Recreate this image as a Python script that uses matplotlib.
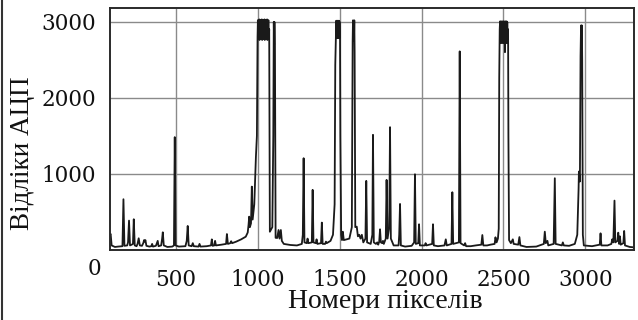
import matplotlib
matplotlib.use("Agg")
import matplotlib.pyplot as plt
from matplotlib.lines import Line2D

# (pixel number, ADC reading), region by region
trace_left = [
    (100, 200), (104, 210), (110, 60), (130, 40), (150, 45), (176, 50), (182, 667),
    (188, 55), (205, 60), (210, 100), (216, 386), (222, 60), (232, 70), (240, 80),
    (245, 404), (251, 60), (262, 50), (268, 80), (275, 154), (282, 60), (295, 55),
    (303, 90), (308, 130), (312, 110), (316, 130), (322, 55), (340, 45), (352, 50),
    (357, 80), (362, 45), (380, 55), (386, 90), (391, 120), (396, 50), (412, 60),
    (418, 150), (422, 233), (428, 60), (450, 40), (480, 45), (490, 60), (495, 1483),
    (500, 60), (520, 45), (560, 50), (568, 120), (574, 316), (580, 60), (598, 50),
    (605, 90), (611, 50), (640, 45), (646, 80), (652, 45), (690, 50), (716, 60),
    (721, 140), (726, 55), (736, 60), (741, 120), (746, 60), (780, 70), (808, 80),
    (813, 210), (819, 80), (834, 90), (839, 115), (845, 90), (870, 110), (900, 140),
    (928, 175), (940, 230), (945, 330), (949, 438), (953, 300), (960, 350), (965, 833),
    (970, 400), (980, 600), (990, 1228), (996, 1500),
]
trace_block1 = [
    (1000, 2800), (1002, 3020), (1004, 2770), (1006, 3000), (1008, 2790), (1010, 3030),
    (1012, 2760), (1014, 3010), (1016, 2780), (1018, 3025), (1020, 2770), (1022, 3000),
    (1024, 2790), (1026, 3030), (1028, 2760), (1030, 3015), (1032, 2780), (1034, 3020),
    (1036, 2770), (1038, 3000), (1040, 2800), (1042, 3030), (1044, 2760), (1046, 3010),
    (1048, 2780), (1050, 3025), (1052, 2770), (1054, 3000), (1056, 2790), (1058, 3030),
    (1060, 2760), (1062, 3015), (1064, 2780), (1066, 3020), (1068, 2770), (1071, 2900),
]
trace_mid1 = [
    (1075, 240), (1090, 300), (1096, 1500), (1099, 2996), (1101, 2700), (1103, 2996),
    (1106, 2700), (1110, 160), (1120, 158), (1128, 263), (1134, 150), (1142, 263),
    (1148, 120), (1160, 80), (1200, 66), (1240, 60), (1270, 80), (1276, 200),
    (1281, 1206), (1286, 100), (1300, 90), (1305, 150), (1310, 90), (1331, 100),
    (1336, 790), (1341, 100), (1355, 90), (1360, 140), (1365, 80), (1387, 90),
    (1392, 360), (1397, 80), (1412, 80), (1417, 110), (1422, 90), (1445, 120),
    (1460, 200), (1470, 600), (1474, 2434),
]
trace_block2 = [
    (1478, 2800), (1480, 3013), (1482, 2785), (1484, 3000), (1486, 2790), (1488, 3013),
    (1490, 2785), (1492, 3005), (1494, 2790), (1496, 3013), (1498, 2785), (1500, 3000),
    (1503, 2800), (1505, 1500), (1510, 200), (1515, 130), (1520, 240), (1526, 130),
    (1560, 150), (1575, 300), (1580, 2741), (1582, 3018), (1584, 2745), (1586, 3010),
    (1588, 2750), (1590, 3018), (1592, 2600), (1596, 300),
]
trace_mid2 = [
    (1605, 307), (1612, 180), (1620, 200), (1628, 150), (1636, 200), (1645, 100),
    (1658, 150), (1663, 908), (1668, 100), (1690, 80), (1700, 200), (1704, 1513),
    (1709, 100), (1722, 80), (1730, 100), (1736, 70), (1742, 110), (1747, 272),
    (1752, 100), (1760, 90), (1765, 120), (1770, 80), (1782, 150), (1787, 921),
    (1793, 150), (1803, 300), (1808, 1614), (1813, 150), (1830, 60), (1860, 60),
    (1864, 200), (1869, 605), (1874, 60), (1900, 45), (1940, 55), (1955, 100),
    (1960, 995), (1965, 80), (1980, 90), (1985, 338), (1990, 60), (2020, 60),
    (2025, 90), (2030, 60), (2065, 80), (2070, 338), (2075, 60), (2100, 50),
    (2140, 60), (2148, 140), (2154, 60), (2183, 80), (2188, 759), (2193, 80),
    (2228, 100), (2233, 2610), (2238, 90), (2260, 60), (2266, 90), (2272, 50),
    (2300, 50), (2330, 60), (2365, 70), (2371, 197), (2377, 60), (2400, 60),
    (2420, 70), (2446, 80), (2451, 167), (2458, 100), (2466, 150), (2471, 280),
    (2474, 2259),
]
trace_block3 = [
    (2477, 2900), (2479, 3004), (2481, 2720), (2483, 3000), (2485, 2730), (2487, 3004),
    (2489, 2720), (2491, 2995), (2493, 2740), (2495, 3004), (2497, 2720), (2499, 3000),
    (2501, 2730), (2503, 3004), (2505, 2720), (2507, 2990), (2509, 2600), (2511, 3004),
    (2513, 2720), (2515, 3000), (2517, 2730), (2519, 3004), (2521, 2720), (2523, 2995),
    (2525, 2740), (2528, 2900), (2530, 1500), (2534, 130),
]
trace_right = [
    (2545, 90), (2557, 140), (2562, 80), (2590, 70), (2597, 170), (2603, 60),
    (2640, 40), (2700, 45), (2746, 80), (2752, 241), (2758, 90), (2768, 120),
    (2773, 60), (2806, 80), (2813, 943), (2818, 80), (2856, 60), (2862, 100),
    (2868, 60), (2900, 55), (2935, 80), (2950, 200), (2958, 800), (2960, 1031),
    (2966, 900), (2970, 2544), (2973, 2951), (2976, 2600), (2978, 2951), (2980, 2500),
    (2984, 200), (2990, 60), (3040, 50), (3087, 70), (3092, 219), (3097, 60),
    (3135, 60), (3158, 80), (3163, 140), (3170, 100), (3177, 649), (3182, 100),
    (3195, 120), (3200, 228), (3205, 80), (3210, 180), (3215, 70), (3231, 90),
    (3236, 250), (3241, 60), (3270, 40), (3296, 35),
]

x_ticks = [500, 1000, 1500, 2000, 2500, 3000]
y_ticks = [1000, 2000, 3000]

trace = (trace_left + trace_block1 + trace_mid1 + trace_block2 + trace_mid2
         + trace_block3 + trace_right)
pixel = [p[0] for p in trace]
adc = [p[1] for p in trace]

plt.rcParams["font.family"] = ["DejaVu Serif"]
plt.rcParams["font.size"] = 15.5
label_font = ["Liberation Serif", "DejaVu Serif"]

fig = plt.figure(figsize=(6.38, 3.2), dpi=100)
ax = fig.add_axes([110 / 638, 70 / 320, 524 / 638, 242 / 320])

ax.plot(pixel, adc, color="#1a1a1a", linewidth=1.3)

ax.set_xlim(100, 3296)
ax.set_ylim(0, 3180)
ax.set_xticks(x_ticks)
ax.set_yticks(y_ticks)
ax.tick_params(length=0, labelsize=15.5, colors="#111111")
ax.tick_params(axis="y", pad=10)
ax.tick_params(axis="x", pad=14)
ax.grid(True, color="#8a8a8a", linewidth=1.0)
ax.set_axisbelow(True)
for s in ax.spines.values():
    s.set_color("#2a2a2a")
    s.set_linewidth(1.4)

fig.text(101 / 638, 1 - 269 / 320, "0", ha="right", va="center", fontsize=15.5, color="#111111")
fig.text(385 / 638, 1 - 302 / 320, "Номери пікселів", ha="center", va="center",
         fontsize=20, family=label_font, color="#111111")
fig.text(23 / 638, 1 - 153 / 320, "Відліки АЦП", ha="center", va="center",
         rotation=90, fontsize=19.5, family=label_font, color="#111111")

# page border on the far left
fig.add_artist(Line2D([2 / 638, 2 / 638], [0, 1], transform=fig.transFigure,
                      color="#333333", linewidth=1.5))

fig.savefig("out.png", dpi=100)
